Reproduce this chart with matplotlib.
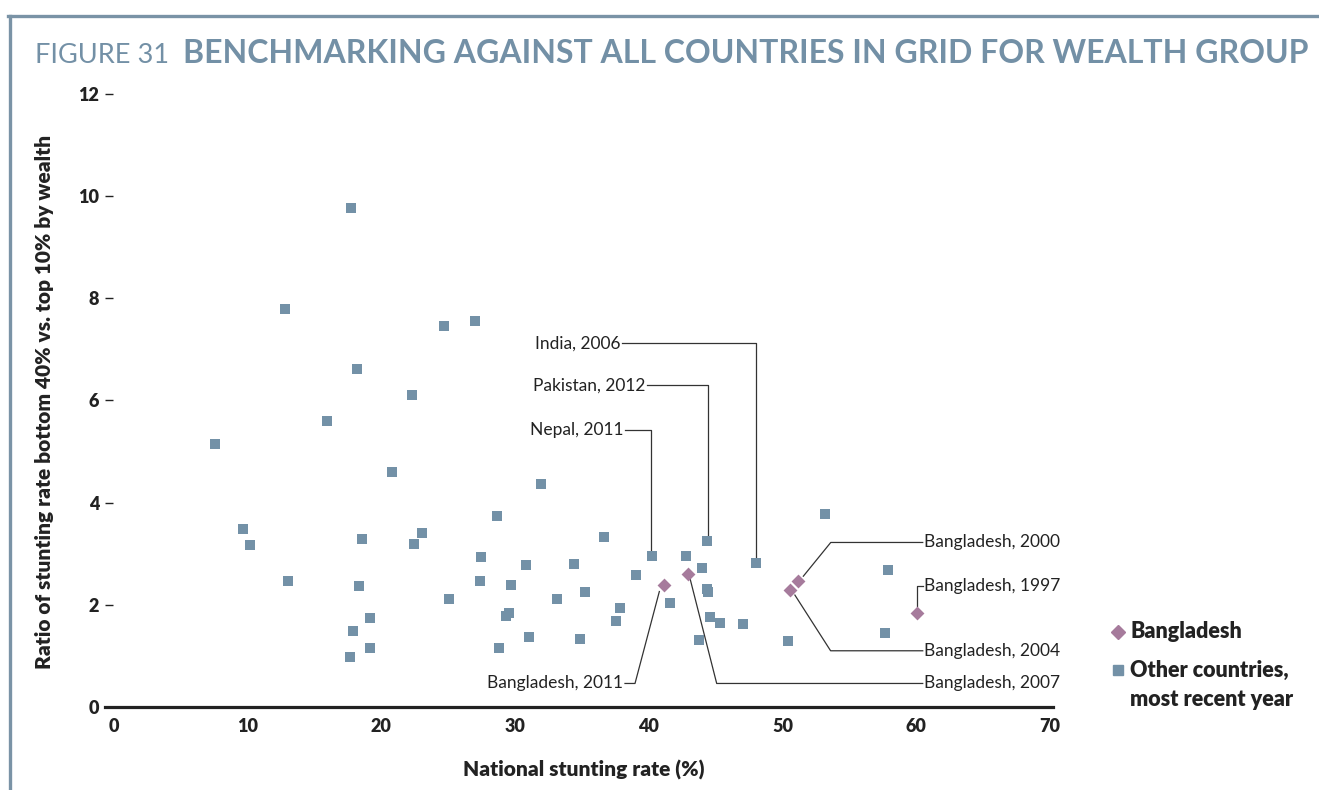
import matplotlib
matplotlib.use("Agg")
import matplotlib.pyplot as plt
from matplotlib.lines import Line2D

plt.rcParams["font.family"] = ["Lato", "DejaVu Sans"]

# other countries, most recent year
other_x = [7.58, 9.67, 10.19, 12.81, 13.03, 15.95, 17.75, 18.20, 17.67, 17.90,
           18.35, 18.57, 19.17, 19.17, 20.82, 22.31, 22.46, 23.06, 24.70, 25.08,
           27.02, 27.47, 27.40, 28.67, 28.82, 29.34, 29.57, 29.72, 30.84, 31.06,
           31.96, 33.16, 34.43, 34.88, 35.25, 36.67, 37.57, 37.87, 39.07, 40.26,
           41.61, 42.80, 44.00, 44.38, 43.78, 44.38, 44.45, 44.60, 45.35, 47.07,
           48.04, 50.43, 53.20, 57.69, 57.91]
other_y = [5.14, 3.48, 3.17, 7.79, 2.47, 5.59, 9.76, 6.61, 0.97, 1.48,
           2.36, 3.28, 1.74, 1.15, 4.59, 6.10, 3.19, 3.40, 7.45, 2.11,
           7.55, 2.93, 2.46, 3.73, 1.15, 1.78, 1.83, 2.38, 2.77, 1.36,
           4.36, 2.11, 2.79, 1.33, 2.25, 3.32, 1.68, 1.93, 2.58, 2.95,
           2.03, 2.95, 2.73, 3.24, 1.31, 2.30, 2.25, 1.76, 1.64, 1.62,
           2.81, 1.29, 3.77, 1.44, 2.68]

# Bangladesh over time
bgd_years = ["1997", "2000", "2004", "2007", "2011"]
bgd_x = [60.08, 51.18, 50.54, 42.95, 41.16]
bgd_y = [1.83, 2.46, 2.29, 2.61, 2.38]

xticks = [0, 10, 20, 30, 40, 50, 60, 70]
yticks = [0, 2, 4, 6, 8, 10, 12]

BLUE = "#7391a7"
MAUVE = "#a67b9c"
TITLE = "#7390a6"
LINE = "#333333"
INK = "#222222"

fig = plt.figure(figsize=(13.19, 7.9), dpi=100)
ax = fig.add_axes([0.0793, 0.1051, 0.7187, 0.776])

ax.scatter(other_x, other_y, marker="s", s=62, color=BLUE, linewidths=0, zorder=3)
ax.scatter(bgd_x, bgd_y, marker="D", s=50, color=MAUVE, linewidths=0, zorder=4)

# leader lines (label, text x, text y, ha, path)
callouts = [
    ("India, 2006", 37.9, 7.12, "right", [(38.0, 7.12), (48.04, 7.12), (48.04, 2.93)]),
    ("Pakistan, 2012", 39.75, 6.30, "right", [(39.84, 6.30), (44.40, 6.30), (44.40, 3.35)]),
    ("Nepal, 2011", 38.1, 5.43, "right", [(38.22, 5.43), (40.16, 5.43), (40.16, 3.06)]),
    ("Bangladesh, 2011", 38.1, 0.46, "right", [(38.22, 0.46), (38.97, 0.46), (40.79, 2.26)]),
    ("Bangladesh, 2000", 60.6, 3.22, "left", [(51.56, 2.56), (53.61, 3.22), (60.49, 3.22)]),
    ("Bangladesh, 1997", 60.6, 2.37, "left", [(60.08, 1.98), (60.08, 2.37), (60.49, 2.37)]),
    ("Bangladesh, 2004", 60.6, 1.10, "left", [(50.93, 2.19), (53.60, 1.10), (60.49, 1.10)]),
    ("Bangladesh, 2007", 60.6, 0.46, "left", [(43.08, 2.52), (45.08, 0.46), (60.49, 0.46)]),
]
for label, tx, ty, ha, path in callouts:
    xs = [p[0] for p in path]
    ys = [p[1] for p in path]
    ax.plot(xs, ys, color=LINE, lw=0.9, clip_on=False, zorder=2)
    ax.text(tx, ty, label, ha=ha, va="center", fontsize=12.5, color=INK)

ax.set_xlim(-0.7, 70.2)
ax.set_ylim(0, 12)
ax.set_xticks(xticks)
ax.set_yticks(yticks)
ax.set_xticklabels([str(t) for t in xticks], fontsize=13, fontweight="heavy", color=INK)
ax.set_yticklabels([str(t) for t in yticks], fontsize=13, fontweight="heavy", color=INK)
ax.tick_params(axis="x", length=0, pad=8)
ax.tick_params(axis="y", direction="in", length=6, width=1, pad=4, color=INK)

for side in ["top", "right", "left"]:
    ax.spines[side].set_visible(False)
ax.spines["bottom"].set_linewidth(2.3)
ax.spines["bottom"].set_color(INK)

ax.set_xlabel("National stunting rate (%)", fontsize=15, fontweight="heavy", color=INK)
ax.xaxis.set_label_coords(0.505, -0.086)
ax.set_ylabel("Ratio of stunting rate bottom 40% vs. top 10% by wealth",
              fontsize=15, fontweight="heavy", color=INK)
ax.yaxis.set_label_coords(-0.053, 0.498)

# legend drawn by hand so the square sits on the first line
fig.add_artist(Line2D([1118 / 1319], [1 - 632 / 790], marker="D", ms=7, color=MAUVE,
                      lw=0, transform=fig.transFigure))
fig.text(1130 / 1319, 1 - 632 / 790, "Bangladesh", fontsize=15.5, fontweight="heavy",
         va="center", color=INK)
fig.add_artist(Line2D([1118 / 1319], [1 - 670 / 790], marker="s", ms=7.9, color=BLUE,
                      lw=0, transform=fig.transFigure))
fig.text(1130 / 1319, 1 - 670 / 790, "Other countries,", fontsize=15.5,
         fontweight="heavy", va="center", color=INK)
fig.text(1130 / 1319, 1 - 699 / 790, "most recent year", fontsize=15.5,
         fontweight="heavy", va="center", color=INK)

# title
t1 = fig.text(35 / 1319, 1 - 63 / 790, "FIGURE 31", fontsize=19.5, fontweight="normal",
              color=TITLE, va="baseline")
ax.annotate("BENCHMARKING AGAINST ALL COUNTRIES IN GRID FOR WEALTH GROUP",
            xy=(1, 0), xycoords=t1, xytext=(10, 0), textcoords="offset points",
            fontsize=23.0, fontweight="bold", color=TITLE, va="bottom", ha="left")

# frame rules
fig.add_artist(Line2D([8 / 1319, 1], [1 - 16 / 790, 1 - 16 / 790], color="#7a93a6",
                      lw=2.4, transform=fig.transFigure))
fig.add_artist(Line2D([10 / 1319, 10 / 1319], [1 - 16 / 790, 0], color="#7a93a6",
                      lw=2.4, transform=fig.transFigure))

fig.savefig("out.png", dpi=100)
